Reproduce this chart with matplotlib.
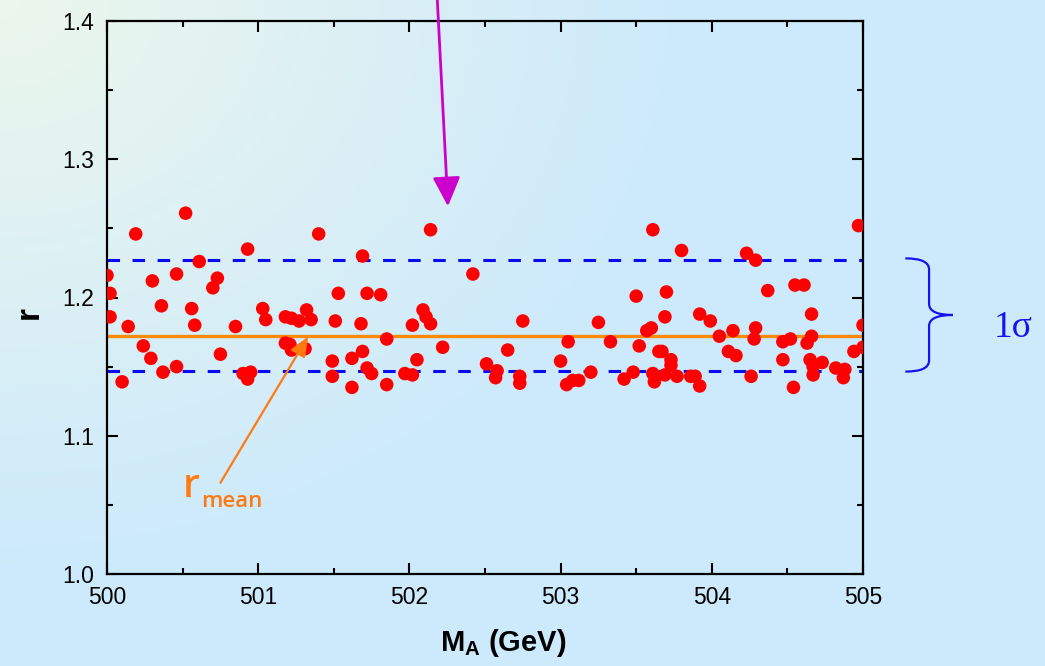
import numpy as np
import matplotlib
matplotlib.use("Agg")
import matplotlib.pyplot as plt
from matplotlib.path import Path
from matplotlib.patches import PathPatch

# ---------------- data ----------------
mass = [500.52, 500.19, 500.93, 500.61, 500.00, 500.30, 500.46, 500.73, 500.70, 500.02,
        500.36, 500.56, 501.03, 500.02, 501.05, 500.14, 500.58, 500.85, 500.24, 500.29,
        500.75, 500.37, 500.46, 500.90, 500.95, 500.93, 500.10,
        501.40, 502.14, 501.69, 502.42, 501.53, 501.72, 501.81, 501.18, 501.22, 501.27,
        501.32, 501.35, 501.51, 501.68, 502.02, 502.09, 502.11, 502.14, 501.18, 501.21,
        501.22, 501.31, 501.85, 502.22, 501.49, 501.62, 501.69, 501.72, 501.75, 501.49,
        501.62, 501.85, 501.97, 502.02, 502.05,
        503.61, 503.50, 503.70, 502.75, 503.25, 503.69, 503.57, 503.60, 503.05, 503.33,
        502.65, 503.52, 503.65, 502.51, 502.58, 502.57, 502.73, 502.73, 503.00, 503.04,
        503.08, 503.12, 503.20, 503.42, 503.48, 503.61, 503.62,
        504.97, 503.80, 504.23, 504.29, 504.37, 504.55, 504.61, 503.92, 503.99, 504.66,
        505.00, 504.05, 504.14, 504.29, 504.28, 504.47, 504.52, 504.66, 504.63, 505.00,
        503.67, 504.11, 504.16, 504.94, 503.73, 503.73, 504.47, 504.65, 504.73, 504.67,
        504.82, 504.88, 503.69, 503.77, 503.86, 503.89, 503.92, 504.26, 504.54, 504.67,
        504.87]
r_vals = [1.261, 1.246, 1.235, 1.226, 1.216, 1.212, 1.217, 1.214, 1.207, 1.203,
          1.194, 1.192, 1.192, 1.186, 1.184, 1.179, 1.180, 1.179, 1.165, 1.156,
          1.159, 1.146, 1.150, 1.145, 1.146, 1.141, 1.139,
          1.246, 1.249, 1.230, 1.217, 1.203, 1.203, 1.202, 1.186, 1.185, 1.183,
          1.191, 1.184, 1.183, 1.181, 1.180, 1.191, 1.186, 1.181, 1.167, 1.166,
          1.162, 1.163, 1.170, 1.164, 1.154, 1.156, 1.161, 1.149, 1.145, 1.143,
          1.135, 1.137, 1.145, 1.144, 1.155,
          1.249, 1.201, 1.204, 1.183, 1.182, 1.186, 1.176, 1.178, 1.168, 1.168,
          1.162, 1.165, 1.161, 1.152, 1.147, 1.142, 1.143, 1.138, 1.154, 1.137,
          1.140, 1.140, 1.146, 1.141, 1.146, 1.145, 1.139,
          1.252, 1.234, 1.232, 1.227, 1.205, 1.209, 1.209, 1.188, 1.183, 1.188,
          1.180, 1.172, 1.176, 1.178, 1.170, 1.168, 1.170, 1.172, 1.167, 1.164,
          1.161, 1.161, 1.158, 1.161, 1.155, 1.151, 1.155, 1.155, 1.153, 1.150,
          1.149, 1.148, 1.144, 1.143, 1.143, 1.143, 1.136, 1.143, 1.135, 1.144,
          1.142]

r_mean = 1.172
r_upper = 1.227
r_lower = 1.147

x_ticks = [500, 501, 502, 503, 504, 505]
y_ticks = [1.0, 1.1, 1.2, 1.3, 1.4]
y_tick_labels = ["1.0", "1.1", "1.2", "1.3", "1.4"]

# ---------------- figure ----------------
plt.rcParams['font.family'] = ['Liberation Sans', 'DejaVu Sans']
plt.rcParams['mathtext.fontset'] = 'custom'
plt.rcParams['mathtext.rm'] = 'Liberation Sans'
plt.rcParams['mathtext.bf'] = 'Liberation Sans:bold'

W, H = 1045, 666
fig = plt.figure(figsize=(W / 100, H / 100), dpi=100)

# background gradient
bg = fig.add_axes([0, 0, 1, 1], zorder=-10)
yy, xx = np.mgrid[0:H, 0:W]
d = np.sqrt((xx * 0.9) ** 2 + (yy * 1.1) ** 2)
t = np.clip(d / 620.0, 0, 1)[..., None]
c0 = np.array([0xec, 0xf7, 0xec]) / 255.0
c1 = np.array([0xcd, 0xea, 0xfc]) / 255.0
img = c0 * (1 - t) + c1 * t
bg.imshow(img, aspect='auto', extent=[0, 1, 0, 1], origin='upper')
bg.axis('off')

ax = fig.add_axes([107 / W, 1 - 574 / H, (863 - 107) / W, (574 - 21) / H])
ax.set_facecolor('none')

ax.axhline(r_upper, color='#0a0af0', lw=2.2, dashes=(4.1, 4.1), zorder=2)
ax.axhline(r_lower, color='#0a0af0', lw=2.2, dashes=(4.1, 4.1), zorder=2)
ax.axhline(r_mean, color='#ff8a0a', lw=2.4, zorder=2)
ax.scatter(mass, r_vals, s=95, color='#ff0000', edgecolors='none', zorder=3)

ax.set_xlim(500, 505)
ax.set_ylim(1.0, 1.4)
ax.set_xticks(x_ticks)
ax.set_xticklabels([str(v) for v in x_ticks])
ax.set_yticks(y_ticks)
ax.set_yticklabels(y_tick_labels)
ax.set_xticks(np.arange(500.5, 505, 1.0), minor=True)
ax.set_yticks(np.arange(1.05, 1.4, 0.1), minor=True)
ax.tick_params(which='both', direction='in', top=True, right=True, width=1.5,
               labelsize=16.5, colors='black')
ax.tick_params(which='major', length=8)
ax.tick_params(which='minor', length=4)
ax.tick_params(axis='y', pad=9)
ax.tick_params(axis='x', pad=9)
for s in ax.spines.values():
    s.set_linewidth(1.6)

ax.set_xlabel(r'$\mathbf{M}_\mathbf{A}$ (GeV)', fontsize=21, fontweight='bold')
ax.xaxis.set_label_coords(0.524, -0.095)
ax.set_ylabel('r', fontsize=24, fontweight='bold')
ax.yaxis.set_label_coords(-0.082, 0.472)

# magenta arrow from above
ax.annotate('', xy=(502.255, 1.266), xytext=(502.18, 1.425),
            xycoords='data', textcoords='data', annotation_clip=False,
            arrowprops=dict(arrowstyle='-|>,head_length=1.8,head_width=0.85',
                            color='#cc00cc', lw=2.0, shrinkA=0, shrinkB=0))

# orange arrow to mean
ax.annotate('', xy=(501.33, 1.1717), xytext=(500.75, 1.066),
            xycoords='data', textcoords='data',
            arrowprops=dict(arrowstyle='-|>,head_length=1.2,head_width=0.5',
                            color='#ff7a10', lw=1.6, shrinkA=0, shrinkB=0))
fig.text(183 / W, 1 - 497 / H, 'r', fontsize=28, color='#ff7a10',
         family='Open Sans', fontweight='semibold', va='baseline', ha='left')
fig.text(201 / W, 1 - 507 / H, 'mean', fontsize=16, color='#ff7a10',
         family='Open Sans', fontweight='semibold', va='baseline', ha='left')

# brace for 1 sigma
xe, xs, xt = 505.28, 505.437, 505.595
ytop, ybot = 1.2283, 1.1464
ymid = 0.5 * (ytop + ybot)
k = 0.008
verts = [(xe, ytop), (xs, ytop), (xs, ytop - k),
         (xs, ymid + k),
         (xs, ymid), (xt, ymid),
         (xs, ymid), (xs, ymid - k),
         (xs, ybot + k),
         (xs, ybot), (xe, ybot)]
codes = [Path.MOVETO, Path.CURVE3, Path.CURVE3,
         Path.LINETO,
         Path.CURVE3, Path.CURVE3,
         Path.CURVE3, Path.CURVE3,
         Path.LINETO,
         Path.CURVE3, Path.CURVE3]
brace = PathPatch(Path(verts, codes), fill=False, edgecolor='#1414f0', lw=1.6,
                  clip_on=False, transform=ax.transData)
ax.add_patch(brace)
fig.text(1013 / W, 1 - 328 / H, '1\u03c3', fontsize=27, color='#1414f0',
         family='Liberation Serif', ha='center', va='center')

fig.savefig('out.png', dpi=100)
